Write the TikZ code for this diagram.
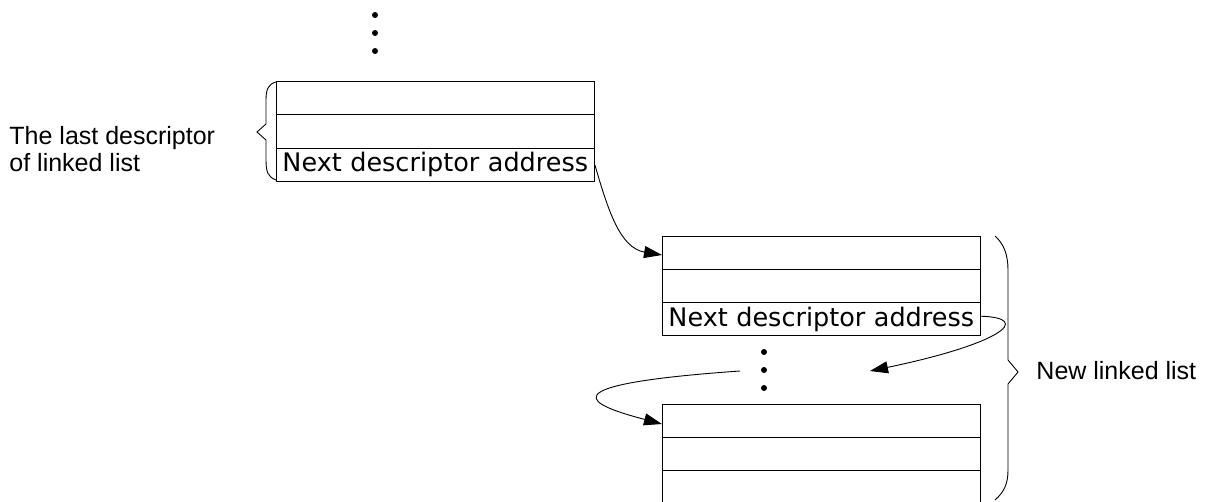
\documentclass[tikz,border=0pt]{standalone}
\usepackage{fontspec}
\setmainfont{Liberation Sans}
\newfontfamily\boxfont{DejaVu Sans}
\usetikzlibrary{arrows.meta}
\begin{document}
\begin{tikzpicture}[x=1pt,y=-1pt,line width=0.9pt,
  rowbox/.style={draw, minimum width=318pt, minimum height=33.4pt, inner sep=0pt, anchor=north west},
  addrrow/.style={rowbox, text width=306pt, inner xsep=6pt, align=left, font=\boxfont\fontsize{25.5}{28}\selectfont},
  lbl/.style={inner sep=0pt, align=left, font=\fontsize{25}{27.5}\selectfont},
  link/.style={-{Triangle[length=18pt,width=12pt]}},
  dot/.style={fill=black}]
\clip (0,0) rectangle (1206,501);
% box 1
\node[rowbox] (b1r1) at (276,81) {};
\node[rowbox] (b1r2) at (276,114.4) {};
\node[addrrow] (b1r3) at (276,147.8) {Next descriptor address};
% box 2
\node[rowbox, minimum height=33.1pt] (b2r1) at (662,236) {};
\node[rowbox, minimum height=33.1pt] (b2r2) at (662,269.1) {};
\node[addrrow, minimum height=33.1pt] (b2r3) at (662,302.2) {Next descriptor address};
% box 3
\node[rowbox, minimum height=33.1pt] (b3r1) at (662,404) {};
\node[rowbox, minimum height=33.1pt] (b3r2) at (662,437.1) {};
\node[rowbox, minimum height=40pt] (b3r3) at (662,470.2) {};
% dots
\foreach \y in {15,33,51} \fill[dot] (375,\y) circle (3pt);
\foreach \y in {352,370,388} \fill[dot] (764,\y) circle (3pt);
% braces
\draw (276,82) .. controls (268,84) and (266,90) .. (266,100) -- (266,124) -- (257,132) -- (266,140) -- (266,160) .. controls (266,172) and (268,177) .. (276,180);
\draw (995,236) .. controls (1004,244) and (1008,255) .. (1008,270) -- (1008,360) -- (1018,372) -- (1008,384) -- (1008,470) .. controls (1008,484) and (1004,492) .. (995,500);
% labels
\node[lbl, anchor=west] (lblA) at (9,149) {The last descriptor\\of linked list};
\node[lbl, anchor=west] (lblB) at (1036,371) {New linked list};
% connectors
\coordinate (a2end) at (870,371);
\coordinate (a3start) at (740,371);
\draw[link] (b1r3.east) .. controls (608,210) and (620,248) .. ([yshift=-2pt]b2r1.west);
\draw[link] ([yshift=3pt]b2r3.east) .. controls (1034,318) and (1000,344) .. (a2end);
\draw[link] (a3start) .. controls (540,385) and (590,405) .. ([yshift=-3pt]b3r1.west);
\end{tikzpicture}
\end{document}
